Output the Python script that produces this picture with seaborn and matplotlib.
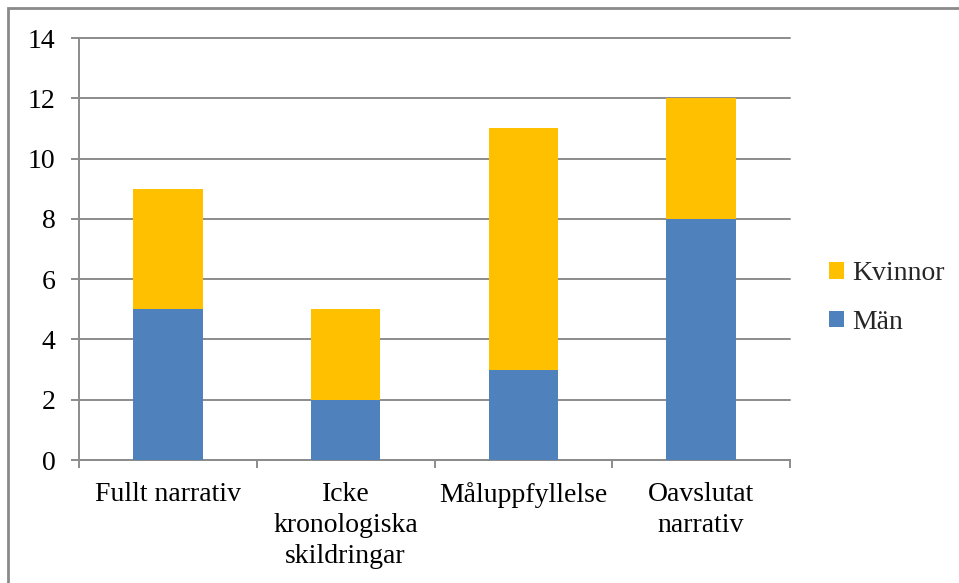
import numpy as np
import pandas as pd
import matplotlib
matplotlib.use("Agg")
import matplotlib.pyplot as plt
from matplotlib.patches import Rectangle
import seaborn as sns

# Data
categories = ["Fullt narrativ", "Icke\nkronologiska\nskildringar", "Måluppfyllelse", "Oavslutat\nnarrativ"]
man = [5, 2, 3, 8]
kvinnor = [4, 3, 8, 4]
y_ticks = [0, 2, 4, 6, 8, 10, 12, 14]

BLUE = "#4F81BD"
GOLD = "#FFC000"
GRID = "#8C8C8C"
FS = 20

sns.set_theme(style="white")
plt.rcParams["font.family"] = ["Liberation Serif", "DejaVu Serif"]

df = pd.DataFrame({"kategori": categories, "Män": man, "Kvinnor": kvinnor})
df["total"] = df["Män"] + df["Kvinnor"]

fig = plt.figure(figsize=(9.59, 5.83), dpi=100)
ax = fig.add_axes([79 / 959, 1 - 460 / 583, 711 / 959, 422 / 583])

# stacked bars: total first (Kvinnor colour), then Män on top
sns.barplot(data=df, x="kategori", y="total", color=GOLD, width=0.39,
            saturation=1, linewidth=0, ax=ax, label="Kvinnor", zorder=3)
sns.barplot(data=df, x="kategori", y="Män", color=BLUE, width=0.39,
            saturation=1, linewidth=0, ax=ax, label="Män", zorder=3)

ax.set_xlim(-0.5, len(categories) - 0.5)
ax.set_ylim(0, 14)
ax.set_yticks(y_ticks)
ax.set_xlabel("")
ax.set_ylabel("")

ax.yaxis.grid(True, color=GRID, linewidth=1.4, zorder=0)
for gl in ax.get_ygridlines():
    gl.set_clip_on(False)
ax.set_axisbelow(True)
for side in ["top", "right"]:
    ax.spines[side].set_visible(False)
for side in ["left", "bottom"]:
    ax.spines[side].set_color(GRID)
    ax.spines[side].set_linewidth(1.4)

ax.tick_params(axis="y", which="major", left=True, length=6, width=1.4,
               color=GRID, pad=11, labelsize=FS, labelcolor="black")
ax.tick_params(axis="x", which="major", bottom=False, pad=10, labelsize=FS,
               labelcolor="black")
ax.set_xticks(np.arange(-0.5, len(categories)), minor=True)
ax.tick_params(axis="x", which="minor", bottom=True, length=6, width=1.4, color=GRID)
for lbl in ax.get_xticklabels():
    lbl.set_linespacing(1.32)

handles, labels = ax.get_legend_handles_labels()
ax.legend(handles, labels, loc="center left", bbox_to_anchor=(829 / 959, 1 - 298 / 583),
          bbox_transform=fig.transFigure, frameon=False, fontsize=FS,
          handlelength=0.55, handleheight=0.55, handletextpad=0.3, labelspacing=0.85,
          borderaxespad=0, borderpad=0)

# outer chart border (cut off at right and bottom in the reference)
fig.patches.append(Rectangle((8 / 959, -0.1), 1.2, 1.1 - 8 / 583, transform=fig.transFigure,
                             fill=False, edgecolor="#8A8A8A", linewidth=2))

fig.savefig("out.png", dpi=100)
